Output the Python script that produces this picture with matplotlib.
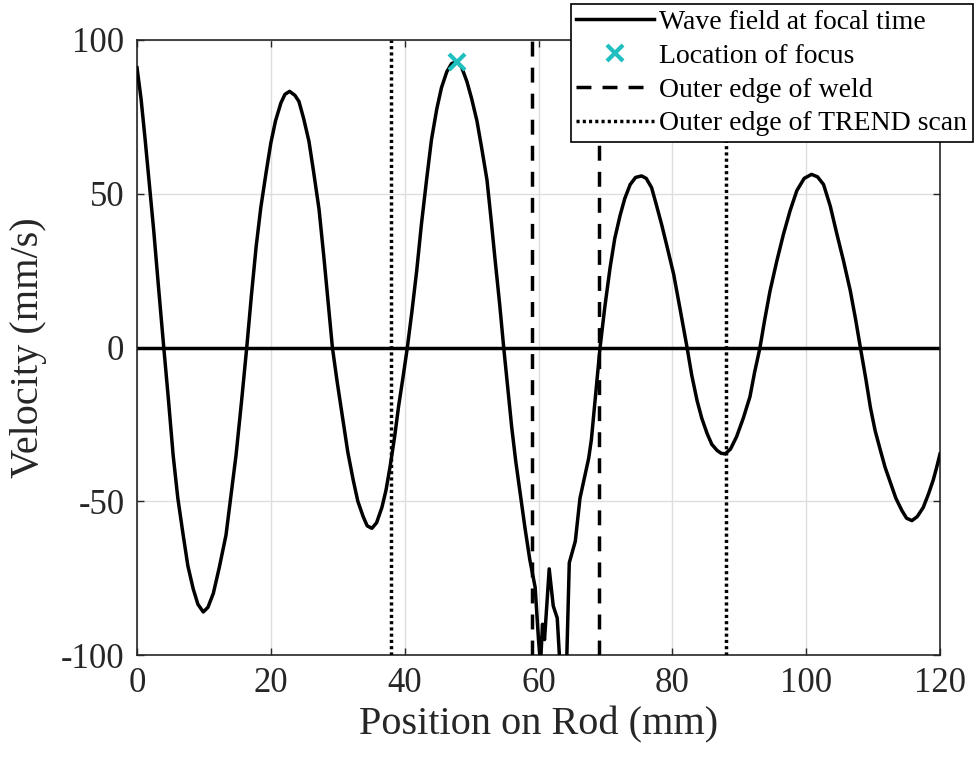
import matplotlib
matplotlib.use("Agg")
import matplotlib.pyplot as plt

plt.rcParams['font.family'] = ['Liberation Serif', 'DejaVu Serif']

# ---- data ----
position_mm = [0, 0.6, 1.2, 1.8, 2.5, 3.2, 4.0,
               4.7, 5.4, 6.1, 6.9, 7.6, 8.4, 9.1, 9.9, 10.6, 11.4, 12.3, 13.3, 14.0, 14.8, 15.6, 16.4,
               17.1, 17.8, 18.5, 19.3, 20.0, 20.7, 21.5, 22.1, 22.8, 23.6, 24.2, 24.9, 25.7, 26.4, 27.2, 27.9, 28.6, 29.2,
               29.9, 30.8, 31.5, 32.3, 33.0, 33.8, 34.4, 35.1, 35.8, 36.6, 37.2, 37.8, 38.5, 39.1, 39.8, 40.4,
               41.1, 41.8, 42.5, 43.3, 44.0, 44.8, 45.5, 46.3, 47.0, 47.8, 48.5, 49.3, 50.0, 50.8, 51.5, 52.3, 52.9, 53.5, 54.2, 54.8,
               55.4, 56.0, 56.6, 57.3, 58.0, 58.7, 59.5, 60.0, 60.3, 60.6, 60.9, 61.6, 62.2, 62.8, 63.2, 64.2, 64.6, 65.5, 66.2, 67.5, 67.9, 68.5, 69.2,
               69.9, 70.7, 71.4, 72.2, 72.9, 73.7, 74.5, 75.4, 76.1, 76.9, 77.6, 78.4, 79.3, 80.2, 81.2, 82.2,
               82.9, 83.7, 84.4, 85.2, 85.9, 86.7, 87.3, 87.9, 88.7, 89.6, 90.6, 91.6, 92.3, 93.1,
               93.8, 94.6, 95.6, 96.6, 97.6, 98.6, 99.7, 100.8, 101.7, 102.6, 103.6, 104.6, 105.6, 106.6, 107.4, 108.1,
               108.9, 109.6, 110.3, 111.1, 111.8, 112.6, 113.4, 114.3, 115.0, 115.8, 116.6, 117.5, 118.3, 119.0, 119.5, 120.0]
velocity = [91, 81, 68, 54, 38, 20, 0,
            -17, -35, -49, -61, -71, -78.5, -83.5, -86, -84.5, -80, -71.5, -61, -49, -35, -18, 0,
            17, 32.7, 45.5, 57, 66.5, 73.7, 79.5, 82.3, 83.3, 82, 80, 74.5, 67, 57, 45, 30, 14, 0,
            -11, -24, -34, -43, -50, -55, -58, -58.8, -57, -52, -46.5, -39, -29, -19, -9, 0,
            12, 25, 40, 55, 67.5, 77.6, 84.5, 89.7, 92.3, 93, 91.2, 86.5, 81, 73.7, 65, 54.5, 42, 28.8, 14, 0,
            -13, -26, -37, -48, -59, -69, -78, -95, -103, -90, -95, -72, -84, -88, -103, -103, -70, -63, -49, -36, -30, -16, 0,
            13, 26, 35.5, 43, 48.5, 53, 55.3, 55.8, 55, 52, 46.5, 40, 32, 23.8, 12, 0,
            -9, -17.3, -23, -28, -31.5, -33.5, -34.4, -34.6, -33, -29, -23, -16, -8, 0,
            9, 18.4, 28, 36.8, 44.5, 51, 55, 56.3, 55.5, 53, 46, 36.8, 28, 18.4, 9, 0,
            -10, -19.5, -27, -33.5, -39, -44, -49, -53, -55.5, -56.3, -55, -52, -47.5, -43, -39, -34.6]
focus_x = [47.8]
focus_y = [93]
weld_edges = [59, 69]
trend_edges = [38, 88]

xticks = [0, 20, 40, 60, 80, 100, 120]
yticks = [-100, -50, 0, 50, 100]

# ---- figure ----
fig = plt.figure(figsize=(9.76, 7.61), dpi=100)
ax = fig.add_axes([137/976, 1-655/761, (940-137)/976, (655-40)/761])

dark = '#262626'
lw = 2.5

ax.axhline(0, color='black', lw=lw, zorder=2)
ax.plot(position_mm, velocity, color='black', lw=lw, zorder=3,
        solid_joinstyle='round', label='Wave field at focal time')
ax.plot(focus_x, focus_y, linestyle='none', marker='x', color='#1fbfbf',
        markersize=11, markeredgewidth=3, zorder=5, label='Location of focus')
for i, xv in enumerate(weld_edges):
    ax.axvline(xv, color='black', lw=lw, linestyle=(0, (4.3, 3.2)), zorder=4,
               label='Outer edge of weld' if i == 0 else None)
for i, xv in enumerate(trend_edges):
    ax.axvline(xv, color='black', lw=lw, linestyle=(0, (0.9, 0.9)), zorder=4,
               label='Outer edge of TREND scan' if i == 0 else None)

ax.set_xlim(0, 120)
ax.set_ylim(-100, 100)
ax.set_xticks(xticks)
ax.set_yticks(yticks)
ax.set_yticklabels([str(v) for v in yticks])
ax.grid(True, color='#dedede', lw=1.0, zorder=0)
ax.set_axisbelow(True)
ax.tick_params(direction='in', length=5, width=1.0, color=dark, labelcolor=dark,
               labelsize=25, top=True, right=True, pad=9)
for s in ax.spines.values():
    s.set_color(dark)
    s.set_linewidth(1.2)

ax.set_xlabel('Position on Rod (mm)', fontsize=29, color=dark, labelpad=4)
ax.set_ylabel('Velocity (mm/s)', fontsize=29, color=dark, labelpad=10)

leg = ax.legend(loc='upper right', bbox_to_anchor=(973/976, 1-4/761),
                bbox_transform=fig.transFigure, borderaxespad=0,
                fontsize=20, handlelength=2.8, handletextpad=0.2,
                labelspacing=0.3, borderpad=0.2, fancybox=False,
                framealpha=1, edgecolor='black')
leg.get_frame().set_linewidth(1.2)
leg.set_zorder(10)

fig.savefig('out.png', dpi=100)
